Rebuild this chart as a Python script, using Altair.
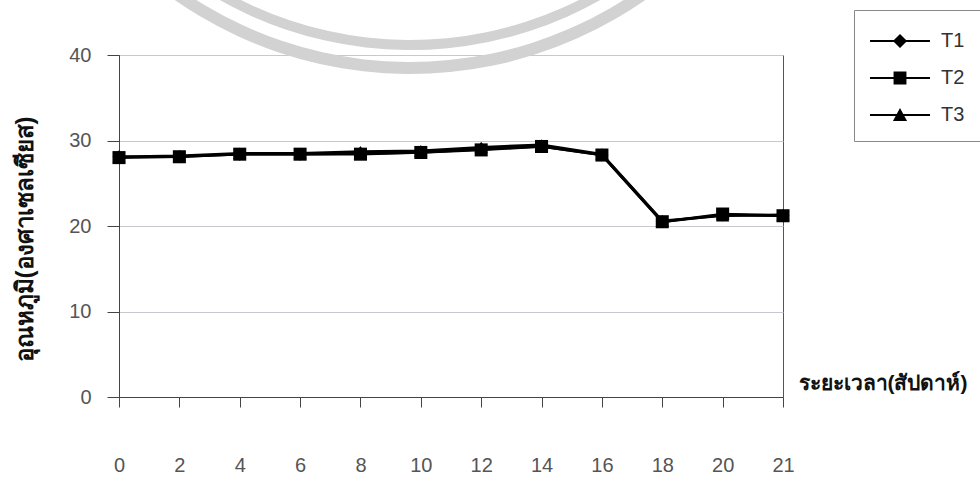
import altair as alt
import pandas as pd

# Weeks (ordinal categories on the x axis)
weeks = ["0", "2", "4", "6", "8", "10", "12", "14", "16", "18", "20", "21"]

# Temperature (°C) per treatment
t1 = [28.1, 28.1, 28.4, 28.4, 28.5, 28.6, 29.0, 29.3, 28.3, 20.5, 21.3, 21.2]
t2 = [28.0, 28.1, 28.4, 28.4, 28.4, 28.6, 28.9, 29.3, 28.3, 20.5, 21.4, 21.2]
t3 = [28.1, 28.2, 28.5, 28.5, 28.7, 28.8, 29.2, 29.5, 28.4, 20.6, 21.2, 21.3]

series = ["T1", "T2", "T3"]
shapes = ["diamond", "square", "triangle-up"]

# Legend glyphs: a thin bar with the marker on it (all filled subpaths).
# The nominal symbol box spans [-1, 1]; the bar runs on into the label gap.
BAR = "M-1,-0.07H3V0.07H-1Z"
legend_glyphs = [
    BAR + " M1,-0.47L1.47,0L1,0.47L0.53,0Z",
    BAR + " M0.57,-0.43H1.43V0.43H0.57Z",
    BAR + " M1,-0.47L1.47,0.4H0.53Z",
]

rows = []
for name, vals in zip(series, [t1, t2, t3]):
    for w, v in zip(weeks, vals):
        rows.append({"week": w, "temp": v, "series": name})
df = pd.DataFrame(rows)

FONT = "Liberation Sans, Arial, sans-serif"

x_enc = alt.X(
    "week:O",
    sort=weeks,
    scale=alt.Scale(type="point", padding=0),
    axis=alt.Axis(
        title="ระยะเวลา(สัปดาห์)",
        titleX=679,
        titleY=-14,
        titleAlign="left",
        titleBaseline="middle",
        titleAngle=0,
        titleFontSize=21,
        titleFontWeight="bold",
        titleColor="#111",
        labelAngle=0,
        labelFontSize=20,
        labelFont=FONT,
        labelColor="#555",
        labelPadding=48,
        labelBaseline="top",
        tickSize=10,
        tickColor="#444",
        domainColor="#444",
        grid=False,
    ),
)
y_enc = alt.Y(
    "temp:Q",
    scale=alt.Scale(domain=[0, 40]),
    axis=alt.Axis(
        title="อุณหภูมิ(องศาเซลเซียส)",
        titleX=-94,
        titleY=184,
        titleAngle=270,
        titleAlign="center",
        titleBaseline="middle",
        titleFontSize=24,
        titleFontWeight="bold",
        titleColor="#111",
        values=[0, 10, 20, 30, 40],
        labelFontSize=20,
        labelFont=FONT,
        labelColor="#555",
        labelPadding=16,
        tickSize=12,
        tickColor="#444",
        domainColor="#444",
        grid=True,
        gridColor="#c8c8d0",
        gridWidth=1,
    ),
)

# Faint circular seal in the background
seal = pd.DataFrame({"k": [0]})
ring_outer = alt.Chart(seal).mark_arc(color="#d2d2d2").encode(
    x=alt.value(291), y=alt.value(-392),
    radius=alt.value(411), radius2=alt.value(399),
    theta=alt.value(2.3), theta2=alt.value(4.0),
)
ring_inner = alt.Chart(seal).mark_arc(color="#d2d2d2").encode(
    x=alt.value(291), y=alt.value(-392),
    radius=alt.value(387), radius2=alt.value(377),
    theta=alt.value(2.3), theta2=alt.value(4.0),
)

lines = alt.Chart(df).mark_line(color="black", strokeWidth=2.7).encode(
    x=x_enc, y=y_enc, detail="series:N"
)

points = alt.Chart(df).mark_point(filled=True, opacity=1, color="black").encode(
    x=x_enc,
    y=y_enc,
    shape=alt.Shape(
        "series:N", scale=alt.Scale(domain=series, range=shapes), legend=None
    ),
    size=alt.value(170),
)

# Legend carrier: same series, glyphs combine line and marker
legend_layer = alt.Chart(df).mark_point(filled=True, opacity=0, color="black").encode(
    x=x_enc,
    y=y_enc,
    shape=alt.Shape(
        "series:N",
        scale=alt.Scale(domain=series, range=legend_glyphs),
        legend=alt.Legend(
            title=None,
            orient="none",
            legendX=735,
            legendY=-45,
            labelFontSize=20,
            labelFont=FONT,
            labelColor="#333",
            symbolSize=900,
            symbolOpacity=1,
            symbolFillColor="black",
            symbolStrokeWidth=0,
            labelOffset=41,
            rowPadding=12,
            padding=16,
            strokeColor="#888",
            fillColor="white",
        ),
    ),
)

chart = (
    alt.layer(ring_outer, ring_inner, lines, points, legend_layer)
    .resolve_scale(shape="independent")
    .properties(
        width=664,
        height=342,
        autosize=alt.AutoSizeParams(type="none"),
        padding={"left": 119, "top": 55, "right": 197, "bottom": 83},
        background="white",
    )
    .configure_view(stroke="#555", strokeWidth=1)
)

chart.save("out.html", embed_options={"renderer": "svg", "actions": False})
